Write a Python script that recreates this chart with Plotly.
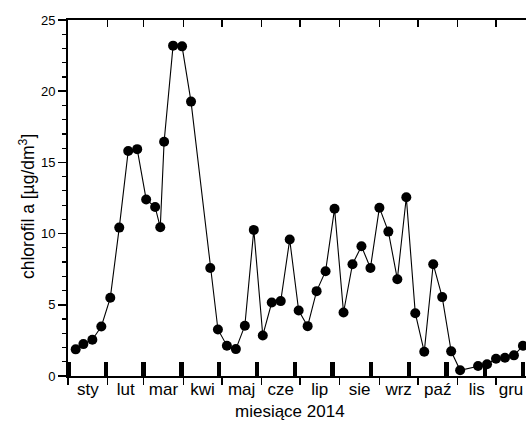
import plotly.graph_objects as go

# measurement days (day of year, Jan 1 = 0) and chlorophyll a values
days = [6, 12, 19, 26, 33, 40, 47, 54, 61, 68, 72, 75, 82, 89, 96, 111, 117, 124, 131, 138,
        145, 152, 159, 166, 173, 180, 187, 194, 201, 208, 215, 222, 229, 236, 243, 250, 257,
        264, 271, 278, 285, 292, 299, 306, 320, 327, 334, 341, 348, 355]
chl = [1.87, 2.24, 2.55, 3.48, 5.49, 10.42, 15.80, 15.93, 12.40, 11.87, 10.44, 16.45, 23.20,
       23.15, 19.27, 7.59, 3.27, 2.13, 1.89, 3.53, 10.26, 2.85, 5.16, 5.26, 9.58, 4.60, 3.50,
       5.96, 7.36, 11.75, 4.46, 7.85, 9.11, 7.59, 11.82, 10.14, 6.80, 12.55, 4.41, 1.70, 7.85,
       5.54, 1.73, 0.40, 0.70, 0.82, 1.21, 1.28, 1.45, 2.12]

# marker bars (new moon days)
moon_days = [0.5, 29.5, 59, 88.5, 118, 147.5, 177, 206.5, 236.5, 266, 295.5, 325.5, 355]
moon_h = [1] * len(moon_days)

months = ["sty", "lut", "mar", "kwi", "maj", "cze", "lip", "sie", "wrz", "paź", "lis", "gru"]
month_len = [31, 28, 31, 30, 31, 30, 31, 31, 30, 31, 30, 31]

FONT = "Liberation Sans, Arial, sans-serif"
xr = [0, 357.4]

month_start = []
month_mid = []
acc = 0
for L in month_len:
    month_start.append(acc)
    # keep the label inside the visible axis range (last month is cut by the frame)
    month_mid.append(min(acc + L / 2, xr[1] - 11.7))
    acc += L

fig = go.Figure()
fig.add_trace(go.Bar(x=moon_days, y=moon_h, width=3.5, marker=dict(color="black", line=dict(width=0)),
                     showlegend=False, hoverinfo="skip"))
fig.add_trace(go.Scatter(x=days, y=chl, mode="lines+markers",
                         line=dict(color="black", width=1.1),
                         marker=dict(color="black", size=10),
                         showlegend=False))
fig.add_trace(go.Scatter(x=[], y=[], xaxis="x2", showlegend=False))

fig.update_layout(
    width=526, height=421,
    margin=dict(l=68, r=0, t=20, b=45),
    paper_bgcolor="white", plot_bgcolor="white",
    font=dict(family=FONT, color="black"),
    bargap=0,
    xaxis=dict(
        range=xr, showgrid=False, zeroline=False, automargin=False,
        showline=True, linecolor="black", linewidth=2, mirror=True,
        tickmode="array", tickvals=month_mid, ticktext=months,
        ticks="", tickfont=dict(size=17, family=FONT),
        ticklabelstandoff=-3, ticklabeloverflow="allow",
        minor=dict(tickmode="array", tickvals=month_start, ticks="outside",
                   ticklen=7, tickwidth=1.5, tickcolor="black", showgrid=False),
    ),
    xaxis2=dict(
        overlaying="x", side="top", range=xr, anchor="y", automargin=False,
        showgrid=False, zeroline=False, showline=False,
        tickmode="array", tickvals=month_start, ticks="inside",
        ticklen=7, tickwidth=1.5, tickcolor="black", showticklabels=False,
    ),
    yaxis=dict(
        range=[0, 25], showgrid=False, zeroline=False, automargin=False,
        showline=True, linecolor="black", linewidth=2,
        tickmode="linear", tick0=0, dtick=5,
        ticks="outside", ticklen=8, tickwidth=1.5, tickcolor="black",
        tickfont=dict(size=13, family=FONT),
        minor=dict(dtick=1, ticks="outside", ticklen=4, tickwidth=1.2,
                   tickcolor="black", showgrid=False),
    ),
    annotations=[
        dict(text="chlorofil a [µg/dm<sup>3</sup>]", textangle=-90,
             xref="paper", yref="paper", x=0, y=0.5, xshift=-41, yshift=-9,
             xanchor="center", yanchor="middle", showarrow=False,
             font=dict(size=17.5, family=FONT)),
        dict(text="miesiące 2014", xref="paper", yref="paper",
             x=(290 - 68) / 458, y=0, yshift=-35,
             xanchor="center", yanchor="middle", showarrow=False,
             font=dict(size=17, family=FONT)),
    ],
)

page_css = ("document.documentElement.style.overflow='hidden';"
            "document.body.style.margin='0';"
            "document.body.style.overflow='hidden';")

fig.write_html("out.html", post_script=page_css,
               config={"displayModeBar": False, "staticPlot": True})
